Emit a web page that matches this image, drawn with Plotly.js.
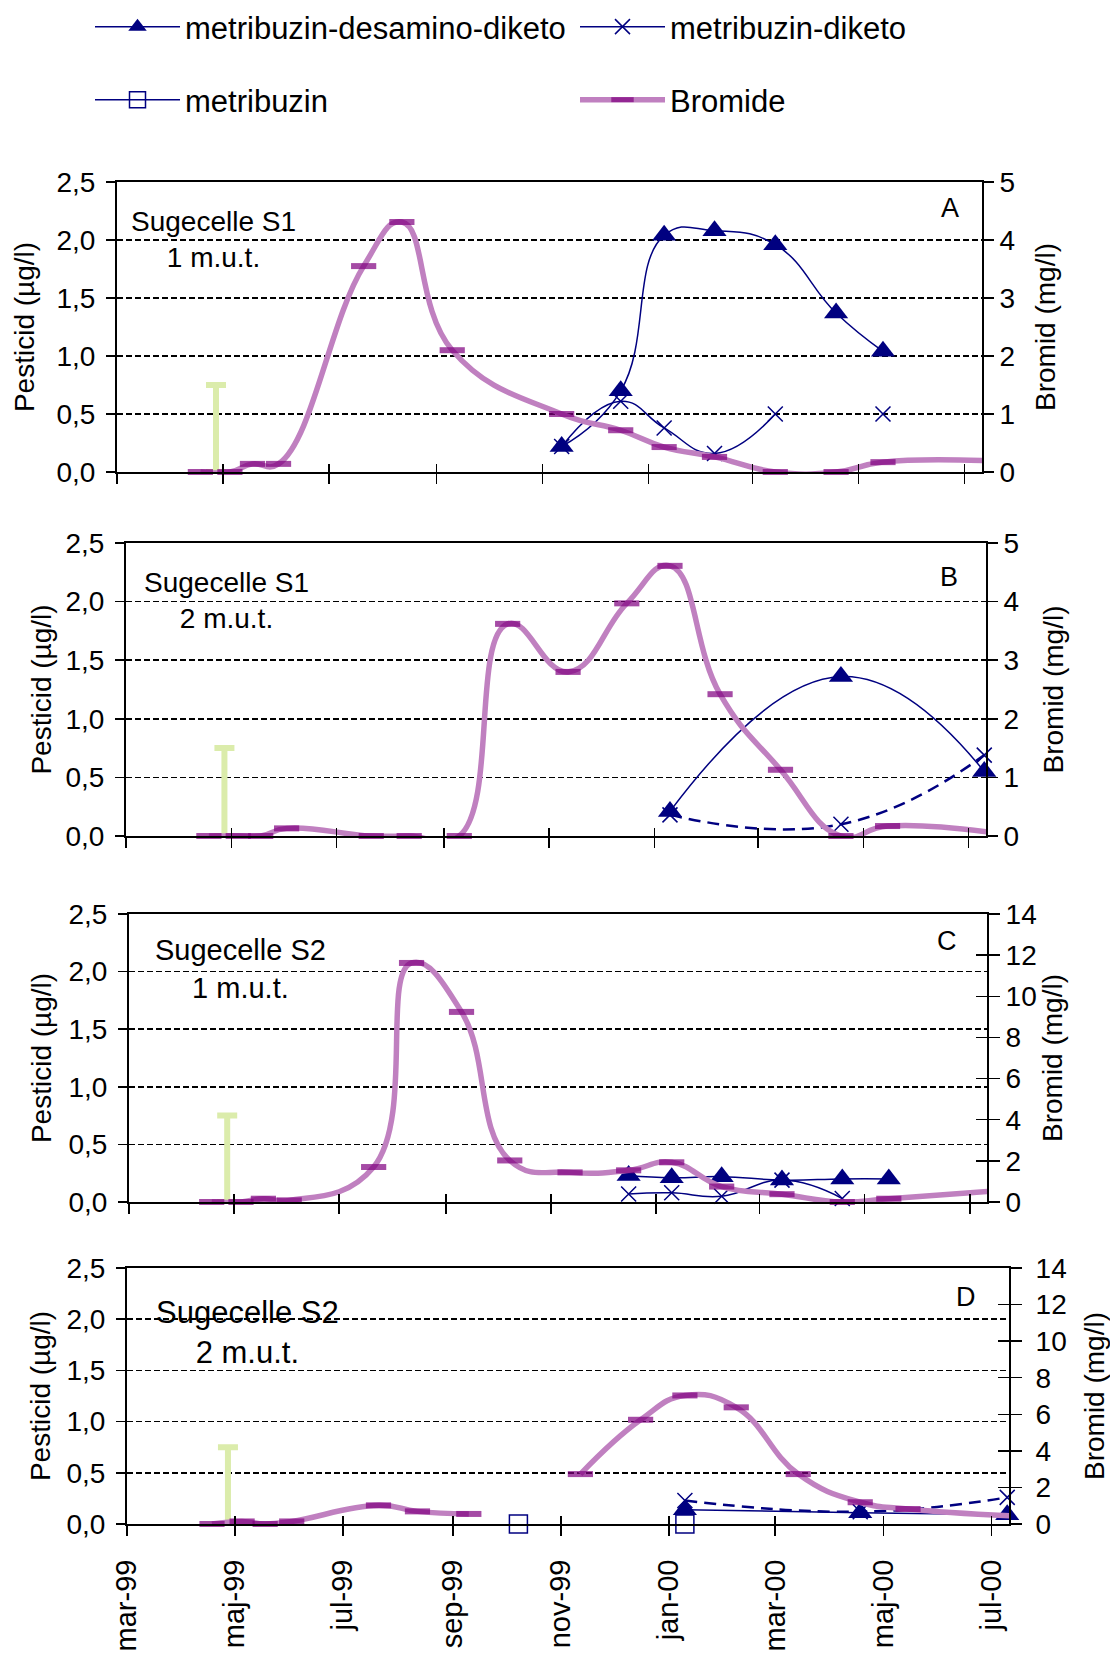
<!DOCTYPE html>
<html>
<head>
<meta charset="utf-8">
<script src="https://cdn.plot.ly/plotly-3.0.1.min.js"></script>
<style>
html,body{margin:0;padding:0;background:#ffffff;}
#chart{width:1110px;height:1653px;}
</style>
</head>
<body>
<div id="chart"></div>
<script>
// ---------------- DATA ----------------
const brDates = ['1999-04-18','1999-05-05','1999-05-18','1999-06-02','1999-07-21','1999-08-12','1999-09-10','1999-10-08','1999-11-12','1999-12-16','2000-01-10','2000-02-08','2000-03-14','2000-04-18','2000-05-15','2000-07-17'];
const pestDates = ['1999-10-08','1999-11-12','1999-12-16','2000-01-10','2000-02-08','2000-03-14','2000-04-18','2000-05-15','2000-07-10'];

// Bromide (mg/l), right axis
const bromideA = [0, 0, 0.14, 0.14, 3.55, 4.31, 2.10, null, 1.00, 0.72, 0.43, 0.26, 0, 0, 0.17, 0.19];
const bromideB = [0, 0, 0, 0.13, 0, 0, 0, 3.62, 2.80, 3.97, 4.61, 2.42, 1.13, 0, 0.17, 0.05];
const bromideC = [0, 0, 0.16, 0.08, 1.70, 11.62, 9.24, 2.02, 1.44, 1.54, 1.93, 0.75, 0.38, 0, 0.16, 0.55];
const bromideD = [0, 0.14, 0, 0.14, 1.02, 0.69, 0.55, null, 2.73, 5.70, 7.03, 6.38, 2.73, 1.19, 0.82, 0.42];

// metribuzin-desamino-diketo (µg/l), left axis
const desaminoA = [null, 0.22, 0.70, 2.04, 2.08, 1.96, 1.37, 1.04, null];
const desaminoB = [null, null, null, 0.21, null, null, 1.36, null, 0.55];
const desaminoC = [null, null, 0.23, 0.21, 0.22, 0.19, 0.20, 0.20, null];
const desaminoD = [null, null, null, 0.14, null, null, 0.11, null, 0.09];

// metribuzin-diketo (µg/l)
const diketoA = [null, 0.22, 0.61, 0.38, 0.16, 0.50, null, 0.50, null];
const diketoB = [null, null, null, 0.18, null, null, 0.10, null, 0.69];
const diketoC = [null, null, 0.07, 0.08, 0.05, 0.19, 0.03, null, null];
const diketoD = [null, null, null, 0.23, null, null, 0.12, null, 0.26];

// metribuzin (µg/l), only panel D
const metribuzinD = [0, null, null, 0, null, null, null, null, null];

// application marker
const sprayDate = ['1999-04-27'];
const sprayDose = [0.75];

const tickDates = ['1999-03-01','1999-05-01','1999-07-01','1999-09-01','1999-11-01','2000-01-01','2000-03-01','2000-05-01','2000-07-01'];
const tickLabels = ['mar-99','maj-99','jul-99','sep-99','nov-99','jan-00','mar-00','maj-00','jul-00'];

const panelLetters = ['A','B','C','D'];
const cellLabels = ['Sugecelle S1<br>1 m.u.t.','Sugecelle S1<br>2 m.u.t.','Sugecelle S2<br>1 m.u.t.','Sugecelle S2<br>2 m.u.t.'];
const bromidMax = [5, 5, 14, 14];
const bromidStep = [1, 1, 2, 2];

const seriesNames = ['metribuzin-desamino-diketo','metribuzin-diketo','metribuzin','Bromide'];

// ---------------- STYLE / GEOMETRY ----------------
const W = 1110, H = 1653;
const FONT = 'Liberation Sans, Arial, Helvetica, sans-serif';
const X_RANGE = ['1999-03-01', '2000-07-11'];
const PEST_RANGE = [0, 2.5];
const NAVY = '#000080';
const BR_LINE = '#c080c0';
const BR_MARK = '#800080';
const GREEN = '#dbecab';
const SMOOTH = 1.3;

const geom = [
  {l:117, r:982, t:182, b:472, cell:[213,240], cellSize:28, letter:[950,208], lStand:14, rStand:21, rLab:0},
  {l:126, r:986, t:543, b:836, cell:[226,601], cellSize:28, letter:[949,577], lStand:6,  rStand:25, rLab:0},
  {l:129, r:987, t:914, b:1202, cell:[240,969], cellSize:29, letter:[947,941], lStand:9, rStand:6,  rLab:0},
  {l:127, r:1009, t:1268, b:1524, cell:[247,1332], cellSize:31, letter:[966,1297], lStand:8, rStand:19, rLab:8}
];

const panelData = [
  {br: bromideA, des: desaminoA, dik: diketoA, brGaps: true,  dikGaps: false, dikDash: false},
  {br: bromideB, des: desaminoB, dik: diketoB, brGaps: true,  dikGaps: true,  dikDash: true},
  {br: bromideC, des: desaminoC, dik: diketoC, brGaps: true,  dikGaps: true,  dikDash: false},
  {br: bromideD, des: desaminoD, dik: diketoD, brGaps: false, dikGaps: true,  dikDash: true, met: metribuzinD}
];

const xEnd = new Date(X_RANGE[1]).getTime();
const brMarkerSize = brDates.map(d => new Date(d).getTime() <= xEnd ? 18 : 0);

const legendStyle = {
  x: 90/W, xanchor: 'left', yanchor: 'middle',
  orientation: 'h', font: {family: FONT, size: 31, color: '#000'},
  itemwidth: 85, entrywidth: 385, bgcolor: 'rgba(0,0,0,0)', borderwidth: 0,
  traceorder: 'normal'
};

const traces = [];
const layout = {
  width: W, height: H,
  margin: {l:0, r:0, t:0, b:0, pad:0, autoexpand: false},
  paper_bgcolor: '#ffffff',
  plot_bgcolor: 'rgba(0,0,0,0)',
  separators: ',.',
  font: {family: FONT, size: 28, color: '#000'},
  hovermode: false,
  showlegend: true,
  annotations: [],
  legend: Object.assign({}, legendStyle, {y: 1 - 27/H}),
  legend2: Object.assign({}, legendStyle, {y: 1 - 100/H})
};

function sfx(n) { return n === 1 ? '' : String(n); }

geom.forEach((g, i) => {
  const xn = i + 1;
  const yl = 2*i + 1, yr = 2*i + 2;
  const xId = 'x' + sfx(xn), ylId = 'y' + sfx(yl), yrId = 'y' + sfx(yr);
  const d = panelData[i];

  layout['xaxis' + sfx(xn)] = {
    domain: [g.l/W, g.r/W], anchor: ylId, type: 'date', range: X_RANGE,
    tickmode: 'array', tickvals: tickDates, ticktext: tickLabels,
    showticklabels: i === 3, tickangle: -90, ticklabelstandoff: 12,
    tickfont: {family: FONT, size: 29, color: '#000'},
    ticks: 'outside', ticklen: 10, tickwidth: 1.5, tickcolor: '#000',
    showline: true, linewidth: 2, linecolor: '#000', mirror: true,
    showgrid: false, zeroline: false, fixedrange: true
  };
  layout['xaxis' + (5 + i)] = {
    overlaying: xId, anchor: ylId, type: 'date', range: X_RANGE,
    tickmode: 'array', tickvals: tickDates, showticklabels: false,
    ticks: 'inside', ticklen: 8, tickwidth: 1.5, tickcolor: '#000',
    showline: false, showgrid: false, zeroline: false, fixedrange: true
  };
  layout['yaxis' + sfx(yl)] = {
    domain: [1 - g.b/H, 1 - g.t/H], anchor: xId, range: PEST_RANGE,
    tick0: 0, dtick: 0.5, tickformat: '.1f', ticklabelstandoff: 5,
    tickfont: {family: FONT, size: 28, color: '#000'},
    ticks: 'outside', ticklen: 9, tickwidth: 1.5, tickcolor: '#000',
    showline: true, linewidth: 2, linecolor: '#000',
    showgrid: true, gridcolor: '#000', gridwidth: 1.5, griddash: '6px,3px',
    zeroline: false, fixedrange: true,
    title: {text: 'Pesticid (µg/l)', font: {family: FONT, size: 28, color: '#000'}, standoff: g.lStand}
  };
  layout['yaxis' + sfx(yr)] = {
    overlaying: ylId, side: 'right', anchor: xId, range: [0, bromidMax[i]],
    tick0: 0, dtick: bromidStep[i], ticklabelstandoff: g.rLab,
    tickfont: {family: FONT, size: 28, color: '#000'},
    ticks: 'outside', ticklen: (i < 2 ? 10 : 11), tickwidth: 1.5, tickcolor: '#000',
    showline: true, linewidth: 2, linecolor: '#000',
    showgrid: false, zeroline: false, fixedrange: true,
    title: {text: 'Bromid (mg/l)', font: {family: FONT, size: 28, color: '#000'}, standoff: g.rStand}
  };

  traces.push({
    type: 'scatter', mode: 'markers', x: sprayDate, y: [0],
    xaxis: xId, yaxis: ylId, showlegend: false, hoverinfo: 'skip',
    marker: {size: 2, opacity: 0},
    error_y: {type: 'data', symmetric: false, array: sprayDose, arrayminus: [0],
              color: GREEN, thickness: 6, width: 10}
  });

  traces.push({
    type: 'scatter', mode: 'lines+markers', name: seriesNames[0],
    x: pestDates, y: d.des, xaxis: xId, yaxis: ylId,
    connectgaps: true, cliponaxis: false,
    line: {color: NAVY, width: 1.5, shape: 'spline', smoothing: SMOOTH},
    marker: {symbol: 'triangle-up', size: 21, color: NAVY},
    showlegend: i === 0, legendgroup: 'des', legend: 'legend', legendrank: 1
  });

  traces.push({
    type: 'scatter', mode: 'lines+markers', name: seriesNames[1],
    x: pestDates, y: d.dik, xaxis: xId, yaxis: ylId,
    connectgaps: d.dikGaps, cliponaxis: false,
    line: {color: NAVY, width: d.dikDash ? 2.5 : 1.5, shape: 'spline', smoothing: SMOOTH,
           dash: d.dikDash ? '12px,7px' : 'solid'},
    marker: {symbol: 'x-thin', size: 15, color: NAVY, line: {color: NAVY, width: 1.5}},
    showlegend: i === 0, legendgroup: 'dik', legend: 'legend', legendrank: 2
  });

  if (d.met) {
    traces.push({
      type: 'scatter', mode: 'lines+markers', name: seriesNames[2],
      x: pestDates, y: d.met, xaxis: xId, yaxis: ylId,
      connectgaps: false, cliponaxis: false,
      line: {color: NAVY, width: 1.5},
      marker: {symbol: 'square-open', size: 18, color: NAVY, line: {color: NAVY, width: 1.5}},
      showlegend: true, legendgroup: 'met', legend: 'legend2', legendrank: 1
    });
  }

  traces.push({
    type: 'scatter', mode: 'lines+markers', name: seriesNames[3],
    x: brDates, y: d.br, xaxis: xId, yaxis: yrId,
    connectgaps: d.brGaps, cliponaxis: false,
    line: {color: BR_LINE, width: 5.5, shape: 'spline', smoothing: SMOOTH},
    marker: {symbol: 'line-ew', size: brMarkerSize, color: BR_MARK, line: {color: BR_MARK, width: 6}},
    showlegend: i === 0, legendgroup: 'br', legend: 'legend2', legendrank: 2
  });

  traces.push({type: 'scatter', mode: 'markers', x: [], y: [], xaxis: 'x' + (5 + i), yaxis: ylId,
               showlegend: false, hoverinfo: 'skip'});

  if (i >= 2) {
    const yin = 9 + (i - 2);
    layout['yaxis' + yin] = {
      overlaying: ylId, side: 'right', anchor: xId, range: [0, bromidMax[i]],
      tick0: 0, dtick: bromidStep[i], showticklabels: false,
      ticks: 'inside', ticklen: 11, tickwidth: 1.5, tickcolor: '#000',
      showline: false, showgrid: false, zeroline: false, fixedrange: true
    };
    traces.push({type: 'scatter', mode: 'markers', x: [], y: [], xaxis: xId, yaxis: 'y' + yin,
                 showlegend: false, hoverinfo: 'skip'});
  }

  layout.annotations.push({
    xref: 'paper', yref: 'paper', x: g.cell[0]/W, y: 1 - g.cell[1]/H,
    xanchor: 'center', yanchor: 'middle', align: 'center', showarrow: false,
    text: cellLabels[i], font: {family: FONT, size: g.cellSize, color: '#000'}
  });
  layout.annotations.push({
    xref: 'paper', yref: 'paper', x: g.letter[0]/W, y: 1 - g.letter[1]/H,
    xanchor: 'center', yanchor: 'middle', showarrow: false,
    text: panelLetters[i], font: {family: FONT, size: 27, color: '#000'}
  });
});

Plotly.newPlot('chart', traces, layout, {staticPlot: true, displayModeBar: false});
</script>
</body>
</html>
